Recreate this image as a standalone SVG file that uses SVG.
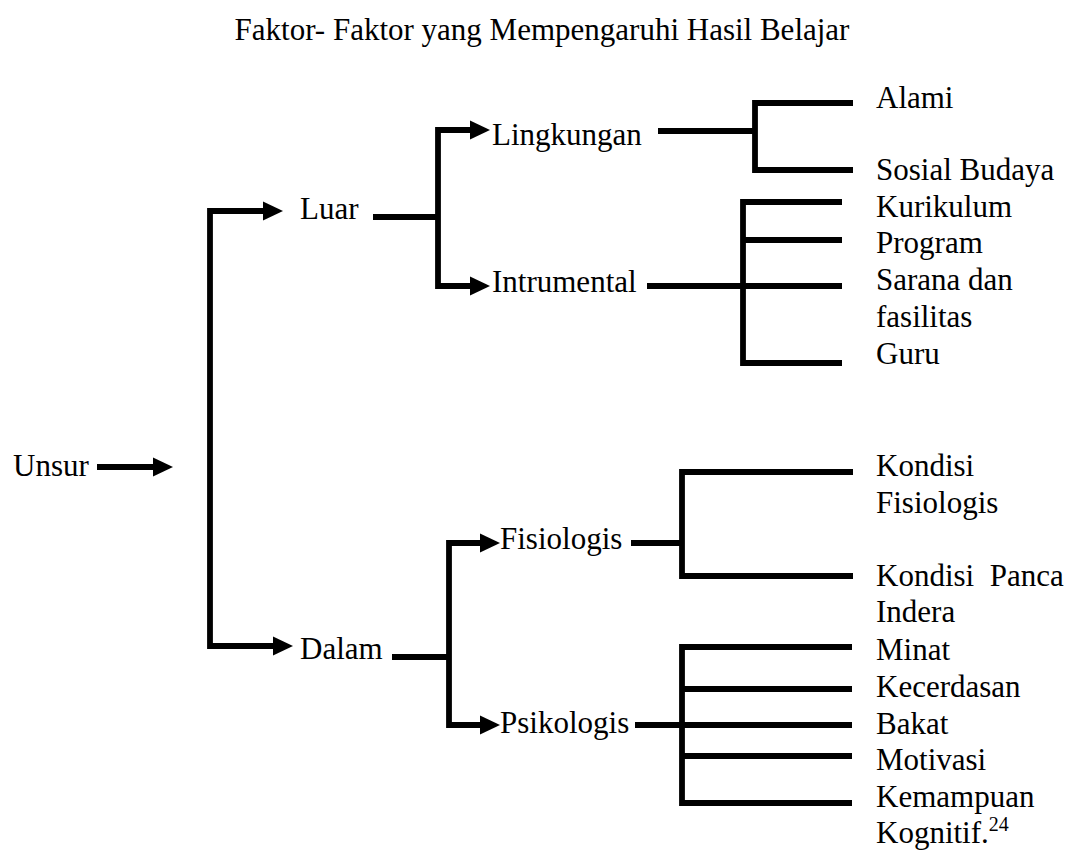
<svg xmlns="http://www.w3.org/2000/svg" width="1078" height="850" viewBox="0 0 1078 850">
<defs>
<style>
text{font-family:"Liberation Serif","Times New Roman",serif;font-size:31px;fill:#000}
.c{fill:none;stroke:#000;stroke-width:5.8;stroke-linejoin:miter;stroke-linecap:butt}
</style>
<marker id="ah" markerUnits="userSpaceOnUse" markerWidth="20" markerHeight="20" refX="0" refY="9.5" orient="auto" overflow="visible">
<path d="M0,0 L20,9.5 L0,19 Z" fill="#000"/>
</marker>
</defs>
<rect width="1078" height="850" fill="#fff"/>
<text id="title" x="542" y="40" text-anchor="middle">Faktor- Faktor yang Mempengaruhi Hasil Belajar</text>
<g id="connectors">
<path class="c" d="M97,467 H153" marker-end="url(#ah)"/>
<path class="c" d="M263,211 H210 V646 H273" marker-end="url(#ah)"/>
<path class="c" d="M212,211 H263" marker-end="url(#ah)"/>
<path class="c" d="M373,217 H438"/>
<path class="c" d="M470,130 H438 V286 H470" marker-end="url(#ah)"/>
<path class="c" d="M440,130 H470" marker-end="url(#ah)"/>
<path class="c" d="M658,131 H755"/>
<path class="c" d="M853,103 H755 V170 H853"/>
<path class="c" d="M647,286 H842"/>
<path class="c" d="M842,202 H743 V363 H842"/>
<path class="c" d="M743,240 H842"/>
<path class="c" d="M392,657 H449"/>
<path class="c" d="M480,543 H449 V725 H480" marker-end="url(#ah)"/>
<path class="c" d="M451,543 H480" marker-end="url(#ah)"/>
<path class="c" d="M631,543 H682"/>
<path class="c" d="M853,472 H682 V576 H853"/>
<path class="c" d="M635,725 H852"/>
<path class="c" d="M852,647 H682 V803 H852"/>
<path class="c" d="M682,689 H852"/>
<path class="c" d="M682,756 H852"/>
</g>
<g id="unsur"><text x="13" y="476">Unsur</text></g>
<g id="luar"><text x="300" y="219">Luar</text></g>
<g id="dalam"><text x="300" y="659">Dalam</text></g>
<g id="lingkungan"><text x="492" y="145">Lingkungan</text></g>
<g id="intrumental"><text x="492" y="292">Intrumental</text></g>
<g id="fisiologis"><text x="500" y="549">Fisiologis</text></g>
<g id="psikologis"><text x="500" y="733">Psikologis</text></g>
<g id="alami"><text x="876" y="108">Alami</text></g>
<g id="sosial-budaya"><text x="876" y="180">Sosial Budaya</text></g>
<g id="kurikulum"><text x="876" y="217">Kurikulum</text></g>
<g id="program"><text x="876" y="253">Program</text></g>
<g id="sarana"><text x="876" y="290">Sarana dan</text><text x="876" y="327">fasilitas</text></g>
<g id="guru"><text x="876" y="364">Guru</text></g>
<g id="kondisi-fisiologis"><text x="876" y="476">Kondisi</text><text x="876" y="513">Fisiologis</text></g>
<g id="kondisi-panca"><text x="876" y="586" xml:space="preserve">Kondisi  Panca</text><text x="876" y="622">Indera</text></g>
<g id="minat"><text x="876" y="660">Minat</text></g>
<g id="kecerdasan"><text x="876" y="697">Kecerdasan</text></g>
<g id="bakat"><text x="876" y="734">Bakat</text></g>
<g id="motivasi"><text x="876" y="770">Motivasi</text></g>
<g id="kemampuan"><text x="876" y="807">Kemampuan</text><text x="876" y="843">Kognitif.<tspan font-size="20" dy="-12">24</tspan></text></g>
</svg>
